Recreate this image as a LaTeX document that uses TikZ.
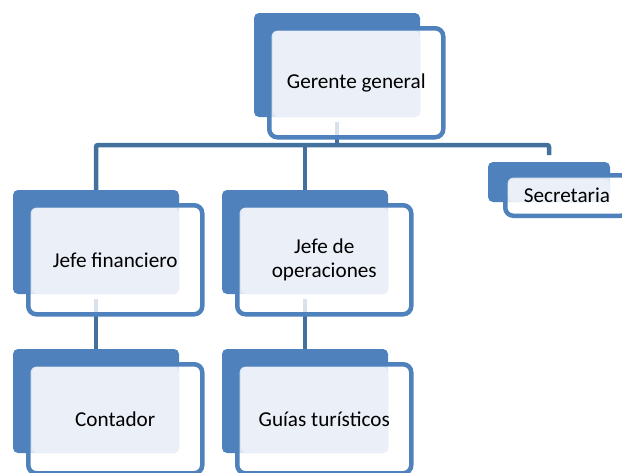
\documentclass[tikz,border=0pt]{standalone}
\usepackage{fontspec}
\setmainfont{Carlito}
\usetikzlibrary{calc}
\definecolor{accent}{HTML}{4F81BD}
\definecolor{conncol}{HTML}{41719C}
\definecolor{lightbox}{HTML}{EBEFF7}
\pgfdeclarelayer{bg}
\pgfsetlayers{bg,main}
\tikzset{
  back/.style={fill=accent, rounded corners=5pt, inner sep=0pt, outer sep=0pt, anchor=north west},
  frame/.style={fill=white, fill opacity=0.8, draw=accent, draw opacity=1, line width=4.5pt, rounded corners=8pt, inner sep=0pt, outer sep=0pt, anchor=north west},
  lbox/.style={fill=lightbox, rounded corners=5pt, inner sep=0pt, outer sep=0pt, anchor=north west},
  lbl/.style={font=\fontsize{21.2}{24.5}\selectfont, align=center, text=black, inner sep=0pt},
  conn/.style={draw=conncol, line width=4.5pt, rounded corners=2pt}
}
% name, x, y (top-left of back), text
\newcommand\orgunit[4]{%
  \node[back, minimum width=166pt, minimum height=104pt] (#1b) at (#2,#3) {};
  \node[frame, minimum width=174pt, minimum height=109pt] (#1f) at ($(#2,#3)+(15.25,15.25)$) {};
  \node[lbox, minimum width=147pt, minimum height=86pt] (#1l) at ($(#2,#3)+(19,18)$) {};
  \node[lbl] (#1t) at ($(#1f.center)+(0,0)$) {#4};
}
\begin{document}
\begin{tikzpicture}[x=1pt,y=-1pt]
\useasboundingbox (0,0) rectangle (622,472);
\orgunit{gg}{254}{13}{Gerente general}
\orgunit{jf}{13}{190}{Jefe financiero}
\orgunit{jo}{222}{190}{Jefe de\\operaciones}
\orgunit{co}{13}{349}{Contador}
\orgunit{gu}{222}{349}{Guías turísticos}
% Secretaria (smaller)
\node[back, minimum width=122pt, minimum height=40pt] (seb) at (488,162) {};
\node[frame, minimum width=123.5pt, minimum height=40.5pt] (sef) at (505.25,175.25) {};
\node[lbox, minimum width=102pt, minimum height=23pt] (sel) at (508,179) {};
\node[lbl] (set) at ($(sef.center)+(0,0)$) {Secretaria};
\coordinate (bar) at (337,145);
\begin{pgfonlayer}{bg}
  \draw[conn] ($(ggb.south)+(0,5)$) -- (ggb.south |- bar);
  \draw[conn] (jfb.north) |- ($(seb.north)+(0,-17)$) -- ($(seb.north)+(0,-7)$);
  \draw[conn] (job.north) -- (job.north |- bar);
  \draw[conn] ($(jfb.south)+(0,5)$) -- (cob.north);
  \draw[conn] ($(job.south)+(0,5)$) -- (gub.north);
\end{pgfonlayer}
\end{tikzpicture}
\end{document}
